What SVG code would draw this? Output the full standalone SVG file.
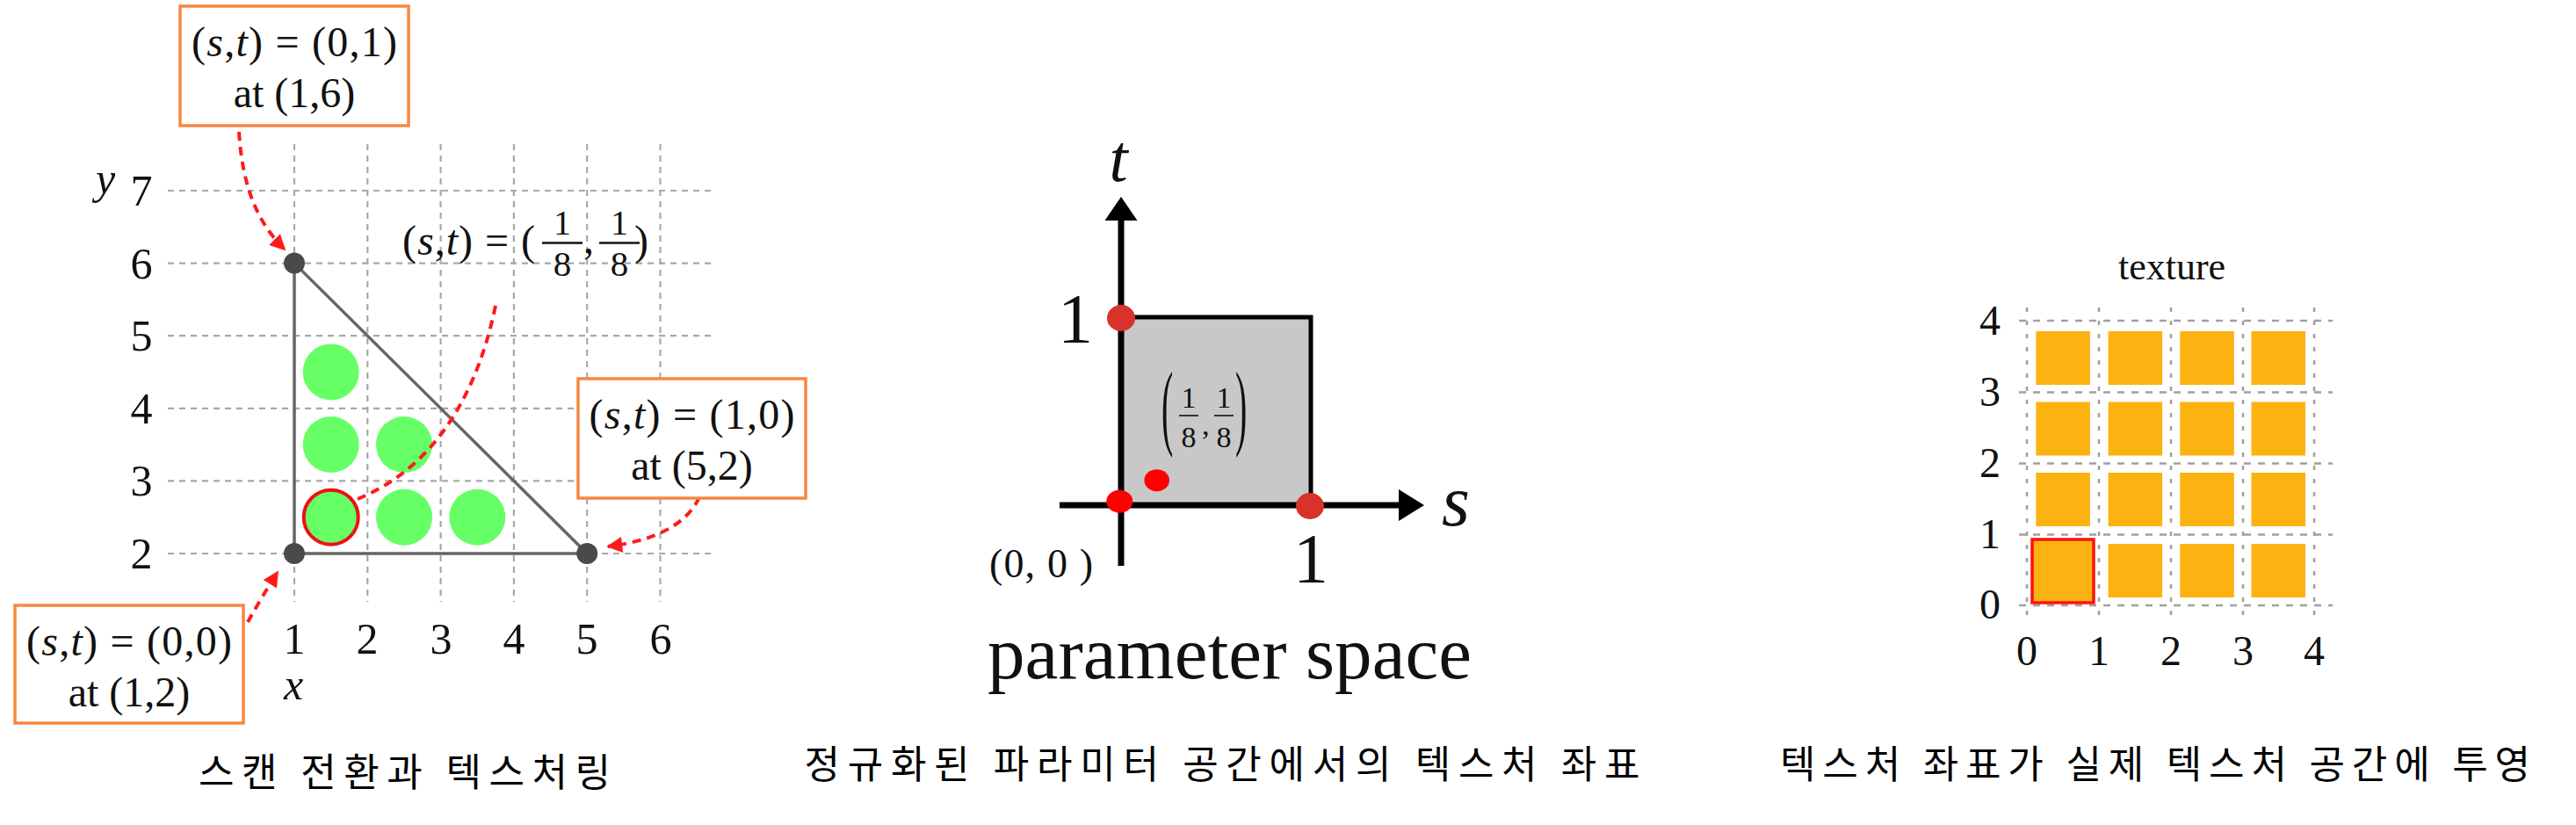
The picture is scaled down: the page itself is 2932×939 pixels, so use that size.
<svg xmlns="http://www.w3.org/2000/svg" width="2932" height="939" viewBox="0 0 2932 939">
<style>
.serif{font-family:"Liberation Serif","Times New Roman",serif;fill:#111}
.it{font-style:italic}
.kr{font-family:"Noto Sans CJK KR","Noto Sans",sans-serif;fill:#000;font-size:44px}
.grid{stroke:#a8a8a8;stroke-width:2.2;stroke-dasharray:7 6;fill:none}
.gridv3{stroke:#a0a0a0;stroke-width:2.5;stroke-dasharray:5 10;fill:none}
.gridh3{stroke:#a0a0a0;stroke-width:2.5;stroke-dasharray:8 8;fill:none}
.box{fill:#fff;stroke:#f7883f;stroke-width:3.5}
.red{stroke:#ff1a1a;stroke-width:4;stroke-dasharray:10 7;fill:none}
.green{fill:#66ff66}
.tex{fill:#fcb210}
</style>
<defs>
<marker id="ah" markerUnits="userSpaceOnUse" markerWidth="20" markerHeight="18" viewBox="0 0 10 10" refX="9" refY="5" orient="auto">
<path d="M0,0 L10,5 L0,10 z" fill="#ff1a1a"/>
</marker>
</defs>
<rect width="2932" height="939" fill="#fff"/>

<!-- Panel 1: scan conversion -->
<g id="panel1-grid">
<path class="grid" d="M335,164V685M418.3,164V685M501.6,164V685M584.9,164V685M668.2,164V685M751.5,164V685"/>
<path class="grid" d="M191,217H812M191,299.6H812M191,382.2H812M191,464.8H812M191,547.4H812M191,630H812"/>
</g>
<g id="panel1-axes" class="serif" font-size="50" text-anchor="middle">
<text x="161" y="234">7</text>
<text x="161" y="317">6</text>
<text x="161" y="399">5</text>
<text x="161" y="482">4</text>
<text x="161" y="564">3</text>
<text x="161" y="647">2</text>
<text x="120" y="220" class="it">y</text>
<text x="335" y="744">1</text>
<text x="418" y="744">2</text>
<text x="502" y="744">3</text>
<text x="585" y="744">4</text>
<text x="668" y="744">5</text>
<text x="752" y="744">6</text>
<text x="334" y="796" class="it">x</text>
</g>
<g id="pixels">
<circle class="green" cx="376.7" cy="588.7" r="32"/>
<circle class="green" cx="460" cy="588.7" r="32"/>
<circle class="green" cx="543.3" cy="588.7" r="32"/>
<circle class="green" cx="376.7" cy="506" r="32"/>
<circle class="green" cx="460" cy="506" r="32"/>
<circle class="green" cx="376.7" cy="423.4" r="32"/>
<circle cx="376.7" cy="588.7" r="31" fill="none" stroke="#ee1111" stroke-width="4"/>
</g>
<g id="triangle">
<path d="M335,299.6L335,630L668.2,630Z" fill="none" stroke="#666" stroke-width="3.5"/>
<circle cx="335" cy="299.6" r="12" fill="#4a4a4a"/>
<circle cx="335" cy="630" r="12" fill="#4a4a4a"/>
<circle cx="668.2" cy="630" r="12" fill="#4a4a4a"/>
</g>
<g id="connectors">
<path class="red" d="M272,150C276,212 292,252 324,284" marker-end="url(#ah)"/>
<path class="red" d="M796,566C780,600 740,616 692,622" marker-end="url(#ah)"/>
<path class="red" d="M282,708C292,690 304,670 316,651" marker-end="url(#ah)"/>
<path class="red" d="M564,348C545,440 500,530 407,568"/>
</g>
<g id="box-01">
<rect class="box" x="205" y="7" width="260" height="136"/>
<text class="serif" font-size="48" x="335" y="64" text-anchor="middle" textLength="234" lengthAdjust="spacing">(<tspan class="it">s</tspan>,<tspan class="it">t</tspan>) = (0,1)</text>
<text class="serif" font-size="48" x="335" y="122" text-anchor="middle">at (1,6)</text>
</g>
<g id="box-10">
<rect class="box" x="658" y="431" width="259" height="136"/>
<text class="serif" font-size="48" x="787.5" y="488" text-anchor="middle" textLength="234" lengthAdjust="spacing">(<tspan class="it">s</tspan>,<tspan class="it">t</tspan>) = (1,0)</text>
<text class="serif" font-size="48" x="787.5" y="546" text-anchor="middle">at (5,2)</text>
</g>
<g id="box-00">
<rect class="box" x="17" y="689" width="260" height="134"/>
<text class="serif" font-size="48" x="147" y="746" text-anchor="middle" textLength="234" lengthAdjust="spacing">(<tspan class="it">s</tspan>,<tspan class="it">t</tspan>) = (0,0)</text>
<text class="serif" font-size="48" x="147" y="804" text-anchor="middle">at (1,2)</text>
</g>
<g id="label-eighth" class="serif" font-size="40">
<text x="458" y="290" font-size="48" textLength="151" lengthAdjust="spacing">(<tspan class="it">s</tspan>,<tspan class="it">t</tspan>) = (</text>
<text x="640" y="267" text-anchor="middle">1</text>
<line x1="617" y1="276.5" x2="663" y2="276.5" stroke="#111" stroke-width="2.5"/>
<text x="640" y="314" text-anchor="middle" font-size="41">8</text>
<text x="664" y="288" font-size="48">,</text>
<text x="705" y="267" text-anchor="middle">1</text>
<line x1="682" y1="276.5" x2="728" y2="276.5" stroke="#111" stroke-width="2.5"/>
<text x="705" y="314" text-anchor="middle" font-size="41">8</text>
<text x="722" y="290" font-size="48">)</text>
</g>
<text id="caption1" class="kr" x="460.5" y="895" text-anchor="middle" textLength="469" lengthAdjust="spacing">스캔 전환과 텍스처링</text>

<!-- Panel 2: parameter space -->
<g id="param-square">
<rect x="1276" y="361" width="216" height="214" fill="#c8c8c8" stroke="#000" stroke-width="5"/>
</g>
<g id="param-axes">
<line x1="1276" y1="644" x2="1276" y2="248" stroke="#000" stroke-width="7"/>
<polygon points="1276,224 1257.5,251 1294.5,251" fill="#000"/>
<line x1="1206" y1="575" x2="1594" y2="575" stroke="#000" stroke-width="7"/>
<polygon points="1621,575 1592,557 1592,593" fill="#000"/>
</g>
<g id="param-dots">
<ellipse cx="1276" cy="362" rx="16" ry="15" fill="#d9322a"/>
<ellipse cx="1491" cy="576" rx="16" ry="15" fill="#d9322a"/>
<ellipse cx="1274.3" cy="570.7" rx="15" ry="13" fill="#ff0000"/>
<ellipse cx="1316.7" cy="546.7" rx="14.3" ry="12.5" fill="#ff0000"/>
</g>
<g id="param-labels" class="serif">
<text x="1273" y="206" font-size="76" class="it" text-anchor="middle">t</text>
<text x="1657" y="598" font-size="82" class="it" text-anchor="middle">s</text>
<text x="1224" y="390" font-size="80" text-anchor="middle">1</text>
<text x="1492" y="663" font-size="80" text-anchor="middle">1</text>
<text x="1185" y="657" font-size="46" text-anchor="middle" textLength="118" lengthAdjust="spacing">(0, 0 )</text>
<text x="1399.5" y="772" font-size="85" text-anchor="middle" textLength="551" lengthAdjust="spacing">parameter space</text>
</g>
<g id="param-point" class="serif" font-size="34">
<text transform="scale(1,2.7)" x="1322" y="184.5" font-size="40">(</text>
<text x="1353" y="464" text-anchor="middle">1</text>
<line x1="1342" y1="473" x2="1364" y2="473" stroke="#111" stroke-width="1.6"/>
<text x="1353" y="509" text-anchor="middle">8</text>
<text x="1368" y="495">,</text>
<text x="1393" y="464" text-anchor="middle">1</text>
<line x1="1382" y1="473" x2="1404" y2="473" stroke="#111" stroke-width="1.6"/>
<text x="1393" y="509" text-anchor="middle">8</text>
<text transform="scale(1,2.7)" x="1406" y="184.5" font-size="40">)</text>
</g>
<text id="caption2" class="kr" x="1391" y="886" text-anchor="middle" textLength="951" lengthAdjust="spacing">정규화된 파라미터 공간에서의 텍스처 좌표</text>

<!-- Panel 3: texture -->
<g id="texture-grid">
<path class="gridv3" d="M2307,350V703M2389,350V703M2471,350V703M2553,350V703M2634,350V703"/>
<path class="gridh3" d="M2298,365H2655M2298,446.5H2655M2298,527.5H2655M2298,608.5H2655M2298,689H2655"/>
</g>
<g id="texels">
<rect class="tex" x="2317.4" y="377" width="61.5" height="61"/>
<rect class="tex" x="2399.6" y="377" width="61.5" height="61"/>
<rect class="tex" x="2481.3" y="377" width="61.5" height="61"/>
<rect class="tex" x="2562.5" y="377" width="61.5" height="61"/>
<rect class="tex" x="2317.4" y="457.5" width="61.5" height="61"/>
<rect class="tex" x="2399.6" y="457.5" width="61.5" height="61"/>
<rect class="tex" x="2481.3" y="457.5" width="61.5" height="61"/>
<rect class="tex" x="2562.5" y="457.5" width="61.5" height="61"/>
<rect class="tex" x="2317.4" y="538" width="61.5" height="61"/>
<rect class="tex" x="2399.6" y="538" width="61.5" height="61"/>
<rect class="tex" x="2481.3" y="538" width="61.5" height="61"/>
<rect class="tex" x="2562.5" y="538" width="61.5" height="61"/>
<rect class="tex" x="2399.6" y="619" width="61.5" height="61"/>
<rect class="tex" x="2481.3" y="619" width="61.5" height="61"/>
<rect class="tex" x="2562.5" y="619" width="61.5" height="61"/>
<rect class="tex" x="2313" y="614" width="70" height="72" stroke="#ff1111" stroke-width="3.5"/>
</g>
<g id="texture-labels" class="serif" font-size="48" text-anchor="middle">
<text x="2472" y="318" font-size="44">texture</text>
<text x="2265" y="381">4</text>
<text x="2265" y="462">3</text>
<text x="2265" y="543">2</text>
<text x="2265" y="624">1</text>
<text x="2265" y="704">0</text>
<text x="2307" y="757">0</text>
<text x="2389" y="757">1</text>
<text x="2471" y="757">2</text>
<text x="2553" y="757">3</text>
<text x="2634" y="757">4</text>
</g>
<text id="caption3" class="kr" x="2453" y="886" text-anchor="middle" textLength="854" lengthAdjust="spacing">텍스처 좌표가 실제 텍스처 공간에 투영</text>
</svg>
